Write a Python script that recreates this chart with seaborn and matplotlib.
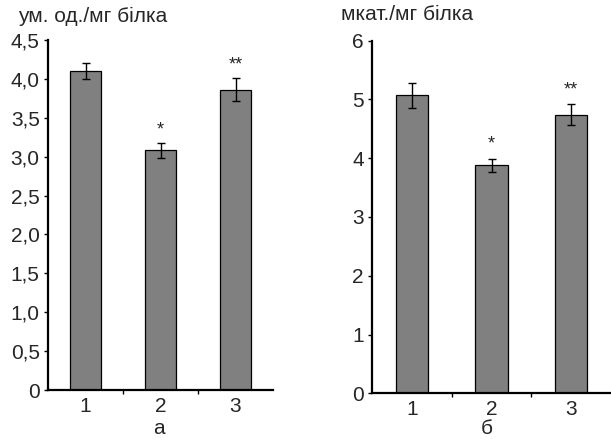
import matplotlib
matplotlib.use("Agg")
import matplotlib.pyplot as plt
import seaborn as sns
import pandas as pd

groups = ["1", "2", "3"]

# panel а
vals_a = [4.1, 3.08, 3.86]
err_a = [0.1, 0.1, 0.15]
stars_a = ["", "*", "**"]
yticks_a = [0, 0.5, 1.0, 1.5, 2.0, 2.5, 3.0, 3.5, 4.0, 4.5]
ylabels_a = ["0", "0,5", "1,0", "1,5", "2,0", "2,5", "3,0", "3,5", "4,0", "4,5"]

# panel б
vals_b = [5.07, 3.88, 4.74]
err_b = [0.21, 0.11, 0.18]
stars_b = ["", "*", "**"]
yticks_b = [0, 1, 2, 3, 4, 5, 6]
ylabels_b = ["0", "1", "2", "3", "4", "5", "6"]

sns.set_style("white")
plt.rcParams["font.family"] = ["Liberation Sans", "DejaVu Sans"]

fig = plt.figure(figsize=(6.11, 4.41), dpi=100)
W, H = 611, 441
ax_a = fig.add_axes([48 / W, 51 / H, 225 / W, 350 / H])
ax_b = fig.add_axes([372 / W, 47.7 / H, 239 / W, 352.6 / H])


def panel(ax, vals, err, stars, yticks, ylabels, ymax, star_gap):
    df = pd.DataFrame({"group": groups, "value": vals})
    sns.barplot(data=df, x="group", y="value", ax=ax, color="#808080",
                saturation=1, width=0.41, edgecolor="black", linewidth=0.9)
    ax.errorbar(range(len(vals)), vals, yerr=err, fmt="none", ecolor="black",
                elinewidth=1.0, capsize=3, capthick=1.0)
    for i, s in enumerate(stars):
        if s:
            ax.text(i, vals[i] + err[i] + star_gap, s, ha="center", va="bottom",
                    fontsize=13)
    ax.set_xlim(-0.5, 2.5)
    ax.set_ylim(0, ymax)
    ax.set_yticks(yticks)
    ax.set_yticklabels(ylabels, fontsize=15)
    ax.set_xticks([0.5, 1.5], minor=True)
    ax.tick_params(axis="x", which="major", length=0, labelsize=15, pad=5)
    ax.tick_params(axis="x", which="minor", length=3, width=1, color="black",
                   direction="out", bottom=True)
    ax.tick_params(axis="y", length=3, width=1, color="black", direction="out",
                   left=True, pad=3)
    ax.set_xlabel("")
    ax.set_ylabel("")
    for side in ["top", "right"]:
        ax.spines[side].set_visible(False)
    for side in ["left", "bottom"]:
        ax.spines[side].set_color("black")
        ax.spines[side].set_linewidth(1.6)
    ax.patch.set_alpha(0)


panel(ax_a, vals_a, err_a, stars_a, yticks_a, ylabels_a, 4.5, 0.06)
panel(ax_b, vals_b, err_b, stars_b, yticks_b, ylabels_b, 6, 0.1)

fig.text(18 / W, 1 - 16 / H, "ум. од./мг білка", fontsize=15, va="center", ha="left")
fig.text(341 / W, 1 - 15 / H, "мкат./мг білка", fontsize=15, va="center", ha="left")
fig.text(159 / W, 1 - 429 / H, "а", fontsize=15, va="center", ha="center")
fig.text(487 / W, 1 - 428 / H, "б", fontsize=15, va="center", ha="center")

fig.savefig("out.png", dpi=100)
